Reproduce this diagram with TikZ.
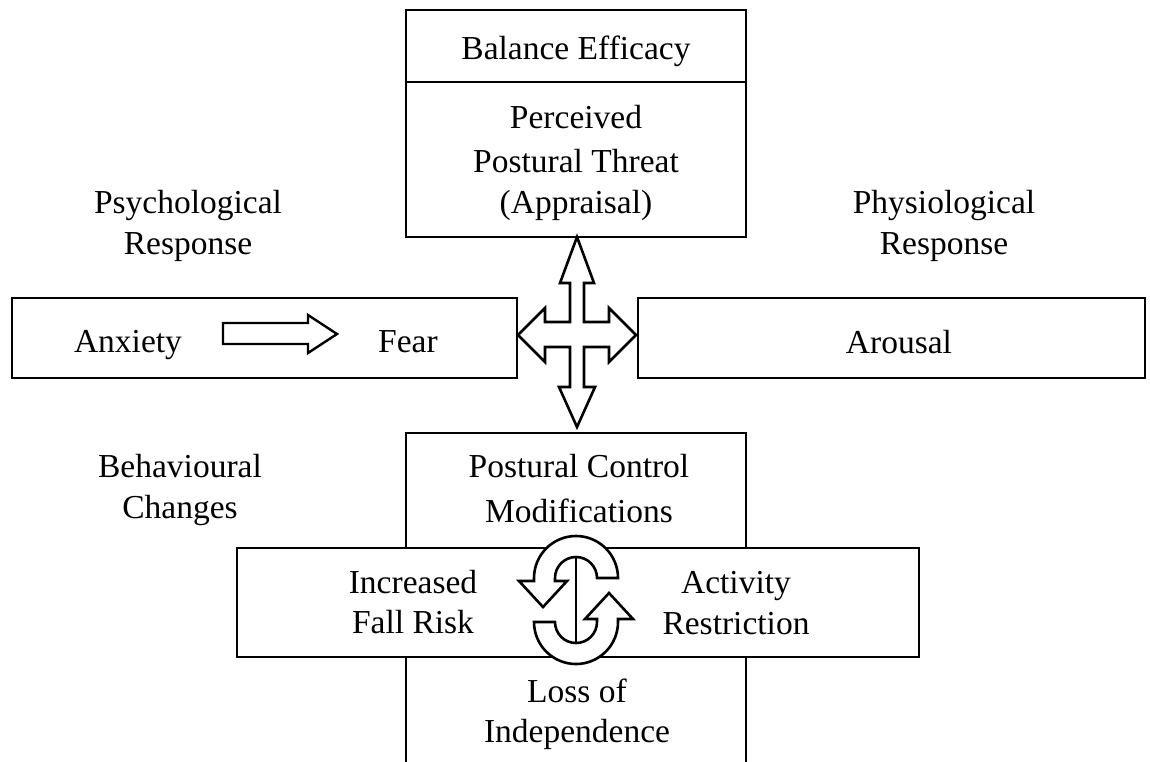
\documentclass[tikz,border=0pt]{standalone}
\usepackage{fontspec}
\setmainfont{Liberation Serif}
\begin{document}
\begin{tikzpicture}[x=1pt,y=-1pt,
  box/.style={draw,line width=2.8pt,inner sep=0pt,outer sep=0pt},
  lbl/.style={anchor=base,inner sep=0pt,font=\fontsize{33.5}{40}\selectfont},
  bigarrow/.style={draw,line width=2.6pt,fill=white,line join=miter}]
\useasboundingbox (0,0) rectangle (1150,761);
\begin{scope}
\clip (0,0) rectangle (1150,761);
% boxes
\node[box,minimum width=340pt,minimum height=72pt] (eff) at (576,46) {};
\node[box,minimum width=340pt,minimum height=155pt] (threat) at (576,159.5) {};
\node[box,minimum width=505pt,minimum height=80pt] (psybox) at (264.5,338) {};
\node[box,minimum width=507pt,minimum height=80pt] (phybox) at (891.5,338) {};
\node[box,minimum width=340pt,minimum height=163pt] (loi) at (576,738.5) {};
\node[box,minimum width=340pt,minimum height=115pt] (pcm) at (576,490.5) {};
\node[box,minimum width=682pt,minimum height=109pt] (wide) at (578,602.5) {};

% cross arrow
\path[bigarrow] (577,237) -- (594,283) -- (584,283) -- (584,322) -- (609,322) -- (609,308)
  -- (636,335) -- (609,362) -- (609,347) -- (584,347) -- (584,387) -- (595,387)
  -- (577,427) -- (559,387) -- (570,387) -- (570,347) -- (545,347) -- (545,362)
  -- (518,335) -- (545,308) -- (545,322) -- (570,322) -- (570,283) -- (560,283) -- cycle;

% anxiety -> fear arrow
\path[bigarrow,line width=2.4pt] (223,323) -- (308,323) -- (308,315) -- (337,334) -- (308,353)
  -- (308,344) -- (223,344) -- cycle;

% circular arrows
\path[bigarrow] (618,578) arc[start angle=0,end angle=-180,radius=42]
  -- (534,581) -- (519,581) -- (543,607) -- (567,581) -- (555,581) -- (555,578)
  arc[start angle=-180,end angle=0,radius=21] -- cycle;
\path[bigarrow] (534,622) arc[start angle=180,end angle=0,radius=42]
  -- (618,619) -- (633,619) -- (609,593) -- (585,619) -- (597,619) -- (597,622)
  arc[start angle=0,end angle=180,radius=21] -- cycle;
\coordinate (ltop) at (576,557);
\coordinate (lbot) at (576,643);
\draw[line width=2.6pt] (ltop) -- (lbot);

% texts
\node[lbl] (t1) at (576,59) {Balance Efficacy};
\node[lbl] (t2) at (576,128) {Perceived};
\node[lbl] (t3) at (576,172) {Postural Threat};
\node[lbl] (t4) at (576,213) {(Appraisal)};
\node[lbl] (t5) at (188,213) {Psychological};
\node[lbl] (t6) at (188,254) {Response};
\node[lbl] (t7) at (944,213) {Physiological};
\node[lbl] (t8) at (944,254) {Response};
\node[lbl] (t9) at (128,352) {Anxiety};
\node[lbl] (t10) at (408,352) {Fear};
\node[lbl] (t11) at (899,353) {Arousal};
\node[lbl] (t12) at (180,477) {Behavioural};
\node[lbl] (t13) at (180,518) {Changes};
\node[lbl] (t14) at (579,477) {Postural Control};
\node[lbl] (t15) at (579,522) {Modifications};
\node[lbl] (t16) at (413,593) {Increased};
\node[lbl] (t17) at (413,633) {Fall Risk};
\node[lbl] (t18) at (736,593) {Activity};
\node[lbl] (t19) at (736,634) {Restriction};
\node[lbl] (t20) at (577,702) {Loss of};
\node[lbl] (t21) at (577,742) {Independence};
\end{scope}
\end{tikzpicture}
\end{document}
